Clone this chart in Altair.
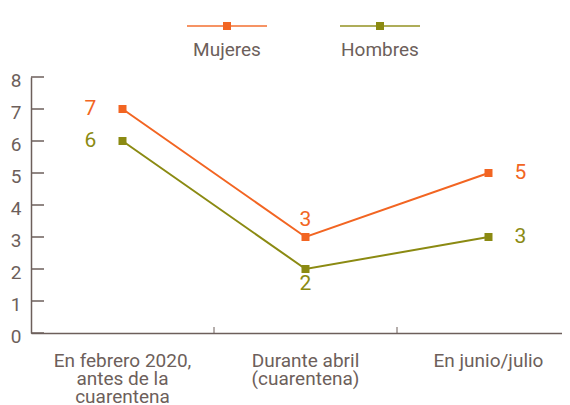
import altair as alt
import pandas as pd

categorias = ["En febrero 2020,\nantes de la\ncuarentena", "Durante abril\n(cuarentena)", "En junio/julio"]
series = ["Mujeres", "Hombres"]
mujeres = [7, 3, 5]
hombres = [6, 2, 3]
colores = ["#F26522", "#8B8A12"]
ticks_y = [0, 1, 2, 3, 4, 5, 6, 7, 8]

rows = []
for i, c in enumerate(categorias):
    rows.append({"cat": c, "serie": "Mujeres", "valor": mujeres[i], "idx": i})
    rows.append({"cat": c, "serie": "Hombres", "valor": hombres[i], "idx": i})
df = pd.DataFrame(rows)
df_leg = pd.DataFrame({"serie": series})
df_ty = pd.DataFrame({"valor": ticks_y})
df_tx = pd.DataFrame({"cat": categorias[1:]})

FONT = "Roboto"
GRAY = "#6d5f5b"
W, H = 549, 256

xscale = alt.Scale(type="band", domain=categorias, paddingInner=0, paddingOuter=0)
yscale = alt.Scale(domain=[0, 8], nice=False)
cscale = alt.Scale(domain=series, range=colores)

x_axis = alt.Axis(title=None, labelAngle=0, ticks=False, domainColor=GRAY,
                  domainWidth=1.5, labelColor=GRAY, labelFontSize=19, labelFont=FONT,
                  labelPadding=18, labelLineHeight=18, labelOverlap=False,
                  labelExpr="split(datum.value, '\\n')")
y_axis = alt.Axis(title=None, values=ticks_y, ticks=False, grid=False, domainColor=GRAY,
                  domainWidth=1.5, labelColor=GRAY, labelFontSize=19, labelFont=FONT,
                  labelPadding=10, labelOffset=3, labelOverlap=False)
x_enc = alt.X("cat:N", scale=xscale, sort=categorias, axis=x_axis)
y_enc = alt.Y("valor:Q", scale=yscale, axis=y_axis)
color_enc = alt.Color("serie:N", scale=cscale, legend=None)

base = alt.Chart(df)
lines = base.mark_line(strokeWidth=2).encode(x=x_enc, y=y_enc, color=color_enc, detail="serie:N")
points = base.mark_point(shape="square", filled=True, size=64, opacity=1).encode(
    x=x_enc, y=y_enc, color=color_enc)

def lab(filt, **kw):
    return base.transform_filter(filt).mark_text(font=FONT, fontSize=21, **kw).encode(
        x=x_enc, y=y_enc, text="valor:Q", color=color_enc)

l1 = lab("datum.idx == 0", dx=-32)
l2a = lab("datum.idx == 1 && datum.serie == 'Mujeres'", dy=-17)
l2b = lab("datum.idx == 1 && datum.serie == 'Hombres'", dy=15)
l3 = lab("datum.idx == 2", dx=32)

tick_y = alt.Chart(df_ty).mark_rule(color=GRAY, strokeWidth=1.5).encode(
    y=y_enc, x=alt.value(0), x2=alt.value(13))
tick_x = alt.Chart(df_tx).mark_rule(color=GRAY, strokeWidth=1).encode(
    x=alt.X("cat:N", scale=xscale, sort=categorias, bandPosition=0, axis=x_axis),
    y=alt.value(H), y2=alt.value(H - 6))

main = alt.layer(lines, points, l1, l2a, l2b, l3, tick_y, tick_x)

lscale = alt.Scale(type="point", domain=series, range=[196, 349], padding=0)
leg_line = alt.Chart(df_leg).mark_tick(orient="horizontal", size=80, thickness=2).encode(
    x=alt.X("serie:N", scale=lscale, axis=None), y=alt.value(-51), color=color_enc)
leg_pt = alt.Chart(df_leg).mark_point(shape="square", filled=True, size=64, opacity=1).encode(
    x=alt.X("serie:N", scale=lscale, axis=None), y=alt.value(-51), color=color_enc)
leg_txt = alt.Chart(df_leg).mark_text(font=FONT, fontSize=19, color=GRAY).encode(
    x=alt.X("serie:N", scale=lscale, axis=None), y=alt.value(-27), text="serie:N")
legend = alt.layer(leg_line, leg_pt, leg_txt)

chart = alt.layer(main, legend).resolve_scale(x="independent").properties(
    width=W, height=H, autosize=alt.AutoSizeParams(type="none"),
    padding={"left": 23, "top": 69, "right": -18, "bottom": 72}
).configure_view(stroke=None)

chart.save("out.html", embed_options={"renderer": "svg", "actions": False})
